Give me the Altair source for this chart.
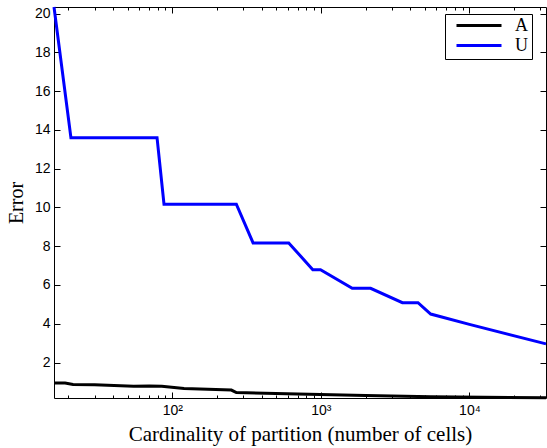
import altair as alt
import pandas as pd

# ---- data ----
u_x = [16, 20.8, 79, 88, 270, 350, 608, 883, 995, 1627, 2163, 3540, 4508, 5489, 10000, 32768]
u_y = [20.34, 13.6, 13.6, 10.17, 10.17, 8.17, 8.17, 6.79, 6.79, 5.83, 5.83, 5.09, 5.09, 4.50, 3.97, 2.96]

a_x = [16, 19, 21.5, 30, 55, 70, 85, 120, 250, 270, 700, 2000, 5500, 32768]
a_y = [0.95, 0.94, 0.87, 0.85, 0.78, 0.79, 0.77, 0.66, 0.58, 0.45, 0.38, 0.30, 0.23, 0.18]

series_names = ["A", "U"]
series_colors = ["#000000", "#0000ff"]

y_ticks = [2, 4, 6, 8, 10, 12, 14, 16, 18, 20]
x_major = [100, 1000, 10000]
x_minor = [20, 30, 40, 50, 60, 70, 80, 90,
           200, 300, 400, 500, 600, 700, 800, 900,
           2000, 3000, 4000, 5000, 6000, 7000, 8000, 9000,
           20000, 30000]
x_major_labels = ["10²", "10³", "10⁴"]

x_title = "Cardinality of partition (number of cells)"
y_title = "Error"

# ---- build table ----
rows = []
for i, (x, y) in enumerate(zip(a_x, a_y)):
    rows.append({"x": x, "y": y, "series": "A", "order": i})
for i, (x, y) in enumerate(zip(u_x, u_y)):
    rows.append({"x": x, "y": y, "series": "U", "order": i})
df = pd.DataFrame(rows)

tick_values = sorted(x_major + x_minor)
label_expr = " : ".join(
    f"datum.value == {v} ? '{lab}'" for v, lab in zip(x_major, x_major_labels)
) + " : ''"
major_test = "indexof([" + ",".join(str(v) for v in x_major) + "], datum.value) < 0"
tick_dash = {"condition": {"test": major_test, "value": [0, 3, 3, 0]}, "value": [6, 0]}

x_scale = alt.Scale(type="log", domain=[16, 32768], nice=False)
y_scale = alt.Scale(domain=[0.17, 20.34], nice=False, zero=False)

common_axis = dict(domain=False, grid=False, offset=-6, tickSize=6, tickWidth=1,
                   tickColor="black", labelFont="Liberation Sans", labelFontSize=14,
                   labelColor="black")

base = alt.Chart(df)

lines = base.mark_line(strokeWidth=3).encode(
    x=alt.X("x:Q", scale=x_scale, title=x_title,
            axis=alt.Axis(values=tick_values, labelExpr=label_expr, tickDash=tick_dash,
                          labelPadding=5, titlePadding=6, labelFlush=False,
                          labelOverlap=False, titleFont="Liberation Serif",
                          titleFontSize=21, titleFontWeight="normal", titleColor="black",
                          **common_axis)),
    y=alt.Y("y:Q", scale=y_scale, title=y_title,
            axis=alt.Axis(values=y_ticks, labelPadding=4, titlePadding=8,
                          titleFont="Liberation Serif", titleFontSize=20,
                          titleFontWeight="normal", titleColor="black",
                          **common_axis)),
    color=alt.Color("series:N",
                    scale=alt.Scale(domain=series_names, range=series_colors),
                    legend=alt.Legend(title=None, orient="none", legendX=391, legendY=7,
                                      symbolType="stroke", symbolSize=2025,
                                      symbolStrokeWidth=3, symbolOffset=6,
                                      clipHeight=15,
                                      labelFont="Liberation Serif", labelFontSize=18,
                                      labelColor="black", labelOffset=12,
                                      labelExpr="datum.label + '\u00a0\u00a0\u00a0'",
                                      strokeColor="black", fillColor="white",
                                      padding=4, rowPadding=1)),
    order="order:Q",
)

mirror = base.mark_line(strokeOpacity=0).encode(
    x=alt.X("x:Q", scale=x_scale, title=None,
            axis=alt.Axis(orient="top", values=tick_values, labels=False,
                          tickDash=tick_dash, **common_axis)),
    y=alt.Y("y:Q", scale=y_scale, title=None,
            axis=alt.Axis(orient="right", values=y_ticks, labels=False, **common_axis)),
    detail="series:N",
    order="order:Q",
)

chart = alt.layer(lines, mirror).resolve_axis(
    x="independent", y="independent"
).properties(
    width=492, height=391,
    padding={"left": 54, "top": 7, "right": 1, "bottom": 50},
    autosize=alt.AutoSizeParams(type="none"),
    background="white",
).configure_view(stroke="black", strokeWidth=1).configure_axis(
    titleFont="Liberation Serif", titleFontWeight="normal"
)

chart.save("out.html", embed_options={"renderer": "svg", "actions": False})
